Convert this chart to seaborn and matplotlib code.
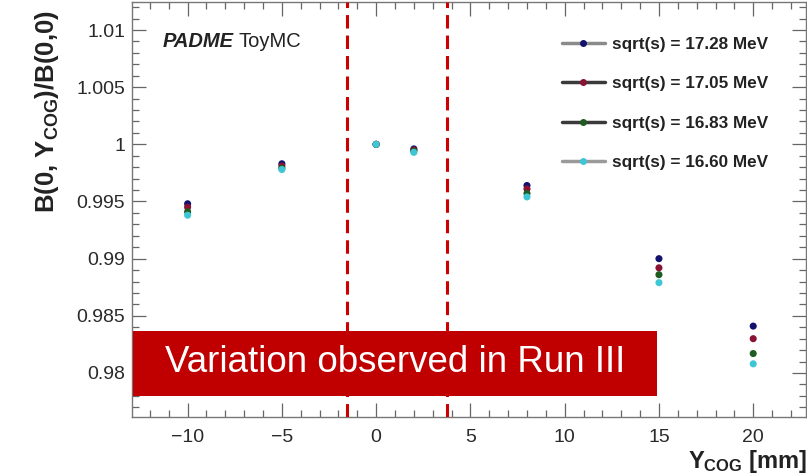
import numpy as np
import pandas as pd
import matplotlib
matplotlib.use("Agg")
import matplotlib.pyplot as plt
import seaborn as sns
from matplotlib.lines import Line2D
from matplotlib.patches import Rectangle
from matplotlib.ticker import MultipleLocator, FuncFormatter

# ---------------- data ----------------
y_cog = [-10, -5, 0, 2, 8, 15, 20]
series_labels = ["sqrt(s) = 17.28 MeV", "sqrt(s) = 17.05 MeV",
                 "sqrt(s) = 16.83 MeV", "sqrt(s) = 16.60 MeV"]
ratio_1728 = [0.9948, 0.9983, 1.0000, 0.9996, 0.9964, 0.9900, 0.9841]
ratio_1705 = [0.9945, 0.9981, 1.0000, 0.9995, 0.9961, 0.9892, 0.9830]
ratio_1683 = [0.9941, 0.9979, 1.0000, 0.9994, 0.9957, 0.9886, 0.9817]
ratio_1660 = [0.9938, 0.9978, 1.0000, 0.9993, 0.9954, 0.9879, 0.9808]
run3_lines = [-1.55, 3.75]
y_ticks = [0.98, 0.985, 0.99, 0.995, 1.0, 1.005, 1.01]
x_ticks = [-10, -5, 0, 5, 10, 15, 20]

colors = ["#12126e", "#8a1232", "#1e5c22", "#3ec6d6"]
legend_line_colors = ["#8a8a8a", "#3a3a3a", "#3a3a3a", "#9a9a9a"]

all_vals = [ratio_1728, ratio_1705, ratio_1683, ratio_1660]
df = pd.DataFrame({
    "x": np.tile(y_cog, 4),
    "y": np.concatenate(all_vals),
    "series": np.repeat(series_labels, len(y_cog)),
})

# ---------------- style ----------------
sns.set_theme(style="ticks")
plt.rcParams["font.family"] = ["Liberation Sans", "DejaVu Sans"]
plt.rcParams["mathtext.fontset"] = "custom"
plt.rcParams["mathtext.rm"] = "Liberation Sans"
plt.rcParams["mathtext.bf"] = "Liberation Sans:bold"
plt.rcParams["mathtext.it"] = "Liberation Sans:italic"

fig = plt.figure(figsize=(8.07, 4.76), dpi=100)
ax = fig.add_axes([132 / 807, 59 / 476, (806 - 132) / 807, (474 - 59) / 476])

sns.scatterplot(data=df, x="x", y="y", hue="series", hue_order=series_labels,
                palette=colors, s=26, linewidth=0, legend=False, ax=ax, zorder=3)

ax.set_xlim(-12.95, 22.8)
ax.set_ylim(0.97615, 1.01245)
ax.set_xlabel("")
ax.set_ylabel("")

ax.set_xticks(x_ticks)
ax.xaxis.set_minor_locator(MultipleLocator(1))
ax.set_yticks(y_ticks)
ax.yaxis.set_minor_locator(MultipleLocator(0.001))
ax.yaxis.set_major_formatter(FuncFormatter(lambda v, p: f"{v:.3f}".rstrip("0").rstrip(".")))
ax.xaxis.set_major_formatter(FuncFormatter(lambda v, p: f"{int(round(v))}".replace("-", "\u2212")))

ax.tick_params(which="both", direction="in", top=True, right=True, colors="#666666",
               labelcolor="#2a2a2a", labelsize=14, width=0.9)
ax.tick_params(which="major", length=10)
ax.tick_params(which="minor", length=5)
ax.tick_params(axis="y", pad=5)
ax.tick_params(axis="x", pad=9)
for sp in ax.spines.values():
    sp.set_color("#777777")
    sp.set_linewidth(1.0)

# dashed Run III boundaries
for xv in run3_lines:
    ax.axvline(xv, color="#cc0000", lw=2.2, ls=(0, (4.4, 2.3)), zorder=4)

# red annotation box
fig.patches.append(Rectangle((133 / 807, (476 - 396) / 476), (657 - 133) / 807, 65 / 476,
                             transform=fig.transFigure, facecolor="#c00000",
                             edgecolor="none", zorder=10))
fig.text(165 / 807, (476 - 363) / 476, "Variation observed in Run III", color="white",
         fontsize=26.5, ha="left", va="center", zorder=11)

# legend
handles = [Line2D([0], [0], color=lc, lw=2.5, marker="o", markersize=4,
                  markerfacecolor=c, markeredgecolor=c)
           for lc, c in zip(legend_line_colors, colors)]
leg = ax.legend(handles, series_labels, loc="upper left",
                bbox_to_anchor=(562 / 807, (476 - 37) / 476), bbox_transform=fig.transFigure,
                frameon=False, prop={"weight": "bold", "size": 12.3},
                handlelength=2.5, handletextpad=0.45, labelspacing=1.42,
                borderpad=0, borderaxespad=0)
for t in leg.get_texts():
    t.set_color("#222222")

# PADME ToyMC
t1 = fig.text(163 / 807, (476 - 47) / 476, "PADME", fontsize=14.5, fontweight="bold",
              fontstyle="italic", color="#222222", ha="left", va="baseline")
ax.annotate("ToyMC", xy=(1, 0), xycoords=t1, xytext=(3, 0), textcoords="offset points",
            fontsize=14.5, color="#222222", ha="left", va="bottom")

# axis titles
fig.text(47 / 807, (476 - 10) / 476, r"$\mathbf{B(0{,}\ Y_{COG})/B(0{,}0)}$", rotation=90,
         fontsize=18.5, ha="center", va="top", color="#222222")
fig.text(1.0, (476 - 468) / 476, r"$\mathbf{Y_{COG}}$ [mm]", fontsize=17, fontweight="bold",
         ha="right", va="baseline", color="#222222")

fig.savefig("out.png", dpi=100)
